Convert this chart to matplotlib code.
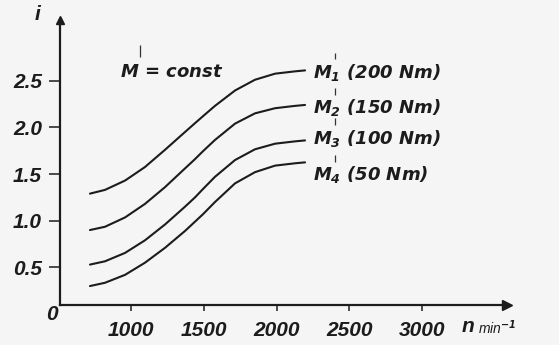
import matplotlib
matplotlib.use("Agg")
import matplotlib.pyplot as plt

plt.rcParams['font.family'] = ['Liberation Sans', 'DejaVu Sans']
plt.rcParams['mathtext.fontset'] = 'custom'
plt.rcParams['mathtext.it'] = 'DejaVu Sans:italic:bold'
plt.rcParams['mathtext.rm'] = 'DejaVu Sans:italic:bold'

# speed n (min^-1) and current i for the four torque levels
n = [718, 821, 959, 1096, 1234, 1371, 1440, 1495, 1577, 1715, 1852, 1990, 2127, 2196]
i_m1 = [1.29, 1.33, 1.43, 1.575, 1.76, 1.95, 2.045, 2.12, 2.23, 2.395, 2.51, 2.575, 2.60, 2.61]
i_m2 = [0.90, 0.935, 1.035, 1.18, 1.36, 1.56, 1.66, 1.745, 1.865, 2.04, 2.15, 2.205, 2.23, 2.24]
i_m3 = [0.53, 0.565, 0.655, 0.79, 0.96, 1.15, 1.25, 1.34, 1.47, 1.65, 1.765, 1.825, 1.85, 1.86]
i_m4 = [0.30, 0.335, 0.42, 0.55, 0.71, 0.89, 0.99, 1.07, 1.20, 1.40, 1.52, 1.59, 1.615, 1.625]

curve_labels = [r'$M_1$ (200 Nm)', r'$M_2$ (150 Nm)', r'$M_3$ (100 Nm)', r'$M_4$ (50 Nm)']
label_y = [2.59, 2.21, 1.885, 1.49]

xticks = [1000, 1500, 2000, 2500, 3000]
yticks = [0.5, 1.0, 1.5, 2.0, 2.5]
ytick_labels = ['0.5', '1.0', '1.5', '2.0', '2.5']

ink = '#1c1c1c'
fig = plt.figure(figsize=(5.59, 3.45), dpi=100, facecolor='#f5f5f5')
ax = fig.add_axes([60 / 559, 40 / 345, 447 / 559, 285 / 345])
ax.set_facecolor('none')

for vals in (i_m1, i_m2, i_m3, i_m4):
    ax.plot(n, vals, color=ink, lw=1.5, solid_capstyle='round', solid_joinstyle='round')

for lab, y in zip(curve_labels, label_y):
    ax.text(2250, y, lab, fontsize=13, fontweight='bold', fontstyle='italic',
            family='DejaVu Sans', color=ink, ha='left', va='center')

ax.text(924, 2.59, r'$M$ = const', fontsize=13, fontweight='bold', fontstyle='italic',
        family='DejaVu Sans', color=ink, ha='left', va='center')

# small pen marks above the labels on the original sheet
ax.vlines([2399] * 4, [y + 0.14 for y in label_y], [y + 0.21 for y in label_y],
          colors='#333333', lw=0.9)
ax.vlines(1062, 2.75, 2.88, colors='#333333', lw=0.9)

ax.set_xlim(512, 3584)
ax.set_ylim(0.097, 3.15)
for s in ('top', 'right'):
    ax.spines[s].set_visible(False)
for s in ('left', 'bottom'):
    ax.spines[s].set_linewidth(1.6)
    ax.spines[s].set_color(ink)

ax.plot(1, 0, '>', color=ink, ms=7, transform=ax.transAxes, clip_on=False)
ax.plot(0, 1, '^', color=ink, ms=6, transform=ax.transAxes, clip_on=False)

ax.set_xticks(xticks)
ax.set_xticklabels([str(v) for v in xticks])
ax.set_yticks(yticks)
ax.set_yticklabels(ytick_labels)
ax.tick_params(axis='x', direction='out', length=4.5, width=1.1, pad=7, colors=ink)
ax.tick_params(axis='y', direction='out', length=8, width=1.1, pad=5, colors=ink)
for t in ax.get_xticklabels() + ax.get_yticklabels():
    t.set_fontsize(15)
    t.set_fontweight('bold')
    t.set_fontstyle('italic')

fig.text(52 / 559, 1 - 314 / 345, '0', fontsize=15, fontweight='bold', fontstyle='italic',
         color=ink, ha='center', va='center')
fig.text(38 / 559, 1 - 15 / 345, 'i', fontsize=15, fontweight='bold', fontstyle='italic',
         color=ink, ha='center', va='center')
fig.text(468 / 559, 1 - 326 / 345, 'n', fontsize=15, fontweight='bold', fontstyle='italic',
         color=ink, ha='center', va='center')
fig.text(478 / 559, 1 - 328 / 345, 'min$^{-1}$', fontsize=10, fontstyle='italic',
         color=ink, ha='left', va='center')

fig.savefig('out.png', dpi=100, facecolor=fig.get_facecolor())
